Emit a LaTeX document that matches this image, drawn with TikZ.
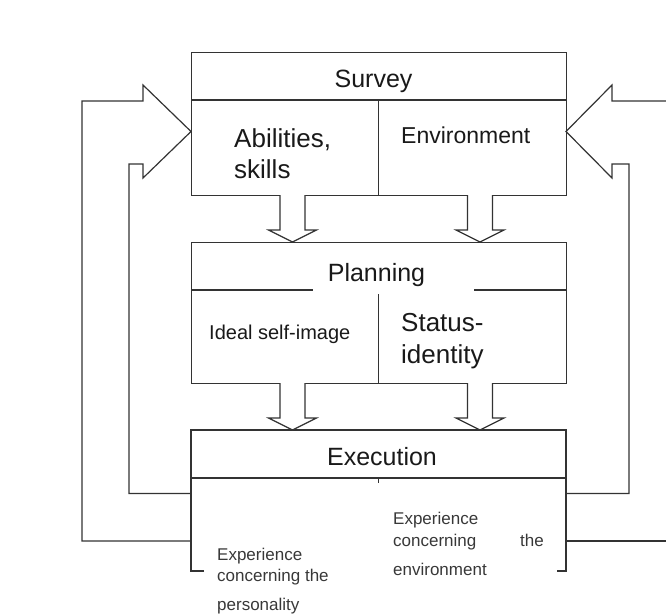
\documentclass[tikz,border=0pt]{standalone}
\usepackage{fontspec}
\setmainfont{Liberation Sans}
\usetikzlibrary{calc}
\begin{document}
\begin{tikzpicture}[x=1pt,y=-1pt,
  ln/.style={line width=1.2pt, draw=black!80, line join=miter},
  stage/.style={ln, rectangle, minimum width=375pt, inner sep=0pt, anchor=north west},
  big/.style={font=\fontsize{25}{30}\selectfont, inner sep=0pt, text=black!90},
  mid/.style={font=\fontsize{26}{30}\selectfont, inner sep=0pt, text=black!90},
  env/.style={font=\fontsize{23}{28}\selectfont, inner sep=0pt, text=black!90},
  ideal/.style={font=\fontsize{20}{24}\selectfont, inner sep=0pt, text=black!90},
  small/.style={font=\fontsize{17}{20}\selectfont, inner sep=0pt, text=black!78},
  blockarrow/.style={ln, fill=white}]
\useasboundingbox (0,0) rectangle (666,614);

% ---------- stage boxes ----------
\node[stage, minimum height=143pt] (survey) at (191,52) {};
\node[stage, minimum height=141pt] (planning) at (191,242) {};
\coordinate (exNW) at (191,430);
\coordinate (exNE) at (566,430);
\coordinate (exSW) at (191,571);
\coordinate (exSE) at (566,571);
\draw[ln] ($(exSW)+(13,0)$) -- (exSW) -- (exNW) -- (exNE) -- (exSE) -- ($(exSE)+(-9,0)$);

% header rules and column rules
\draw[ln] (191,100) -- (566,100);
\draw[ln] (378.5,100) -- (378.5,195);
\draw[ln] (191,290) -- (313,290);
\draw[ln] (474,290) -- (566,290);
\draw[ln] (378.5,294) -- (378.5,383);
\draw[ln] (191,478) -- (566,478);
\draw[ln] (378.5,478) -- (378.5,483);

% ---------- downward block arrows ----------
\foreach \cx/\top/\tip in {292.5/195/242, 480/195/242, 292.5/383/430, 480/383/430}{
  \draw[blockarrow] (\cx-12.5,\top) -- (\cx-12.5,\tip-12) -- (\cx-24,\tip-12) -- (\cx,\tip)
    -- (\cx+24,\tip-12) -- (\cx+12.5,\tip-12) -- (\cx+12.5,\top);
}

% ---------- feedback loops ----------
\coordinate (rEdgeTop) at (667,101);
\coordinate (rEdgeBot) at (667,541);
% left side
\draw[ln] (191,541) -- (82,541) -- (82,101) -- (143,101) -- (143,85) -- (191,131.5)
  -- (143,178) -- (143,164) -- (129,164) -- (129,493.5) -- (191,493.5);
% right side
\draw[ln] (566,541) -- (rEdgeBot);
\draw[ln] (rEdgeTop) -- (612,101) -- (612,85) -- (566,131.5) -- (612,178) -- (612,164)
  -- (629,164) -- (629,493.5) -- (566,493.5);

% ---------- texts ----------
\node[big, anchor=base] (tSurvey) at (373.5,87) {Survey};
\node[mid, anchor=base west] (tAbil) at (234,147) {Abilities,};
\node[mid, anchor=base west] (tSkills) at (234,178) {skills};
\node[env, anchor=base west] (tEnv) at (401,143) {Environment};

\node[big, anchor=base] (tPlan) at (376.5,281) {Planning};
\node[ideal, anchor=base west] (tIdeal) at (209,339) {Ideal self-image};
\node[mid, anchor=base west] (tStatus) at (401,331) {Status-};
\node[mid, anchor=base west] (tIdent) at (401,363) {identity};

\node[big, anchor=base] (tExec) at (382,465.5) {Execution};

\node[small, anchor=base west] (tExpL1) at (217,560.5) {Experience};
\node[small, anchor=base west] (tExpL2) at (217,581.5) {concerning the};
\node[small, anchor=base west] (tExpL3) at (217,610) {personality};

\node[small, anchor=base west] (tExpR1) at (393,524) {Experience};
\node[small, anchor=base west] (tExpR2) at (393,546) {concerning};
\node[small, anchor=base west] (tExpR2b) at (520,546) {the};
\node[small, anchor=base west] (tExpR3) at (393,575.5) {environment};
\end{tikzpicture}
\end{document}
